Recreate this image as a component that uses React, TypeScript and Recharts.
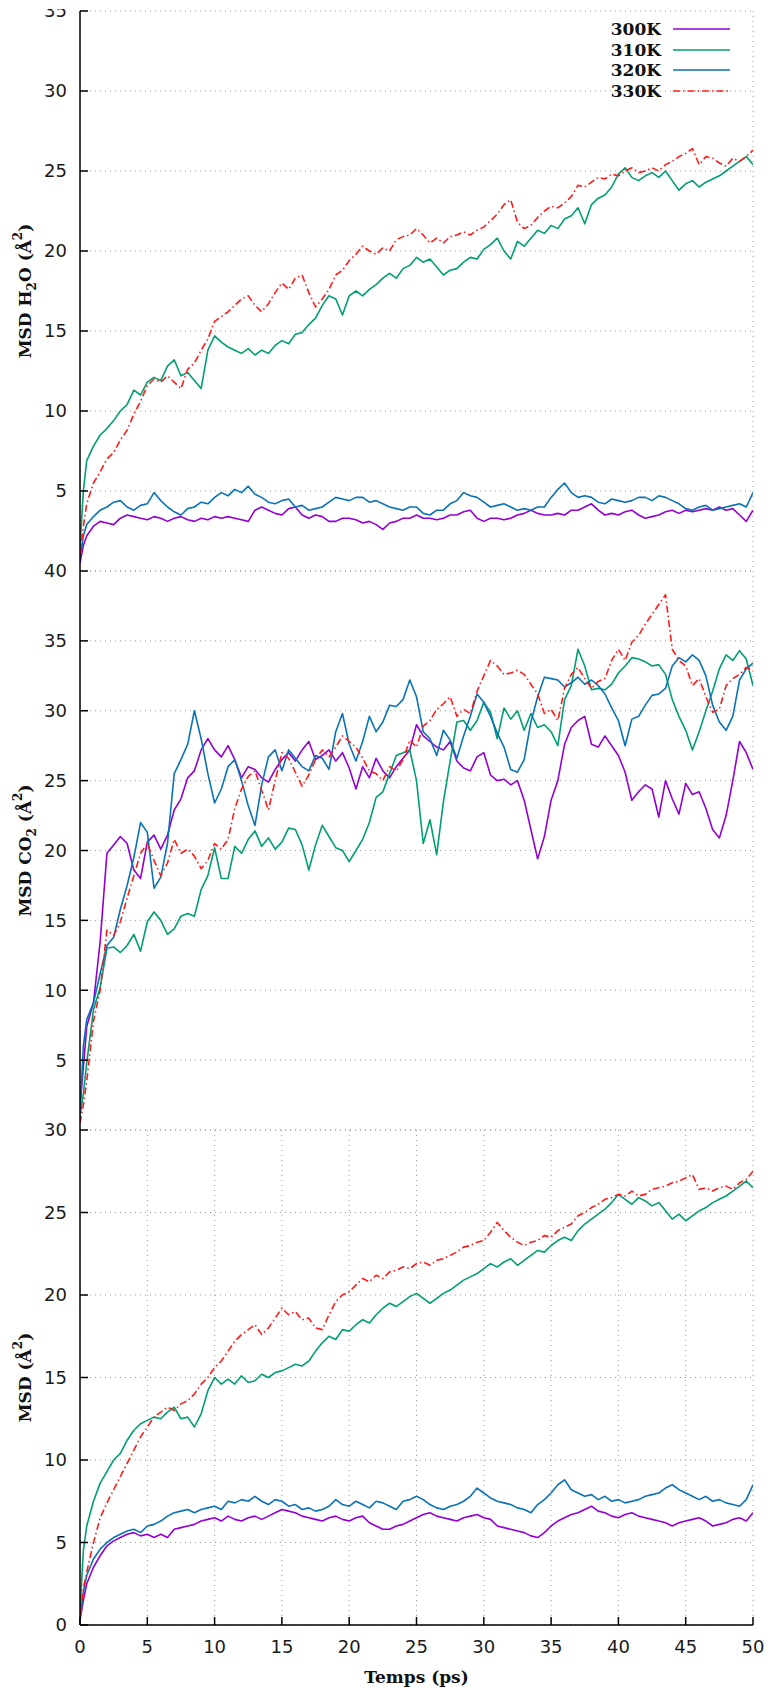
import React from 'react';
import { LineChart, Line, XAxis, YAxis, CartesianGrid } from 'recharts';

// ---------------- data ----------------
const timePs = [
  0, 0.25, 0.5,
  1, 1.5, 2, 2.5, 3, 3.5, 4, 4.5, 5, 5.5,
  6, 6.5, 7, 7.5, 8, 8.5, 9, 9.5, 10, 10.5,
  11, 11.5, 12, 12.5, 13, 13.5, 14, 14.5, 15, 15.5,
  16, 16.5, 17, 17.5, 18, 18.5, 19, 19.5, 20, 20.5,
  21, 21.5, 22, 22.5, 23, 23.5, 24, 24.5, 25, 25.5,
  26, 26.5, 27, 27.5, 28, 28.5, 29, 29.5, 30, 30.5,
  31, 31.5, 32, 32.5, 33, 33.5, 34, 34.5, 35, 35.5,
  36, 36.5, 37, 37.5, 38, 38.5, 39, 39.5, 40, 40.5,
  41, 41.5, 42, 42.5, 43, 43.5, 44, 44.5, 45, 45.5,
  46, 46.5, 47, 47.5, 48, 48.5, 49, 49.5, 50,
];

const seriesNames = ['300K', '310K', '320K', '330K'];
const seriesColors = ['#9400d3', '#009e73', '#0a72b6', '#ff1a1a'];

// MSD H2O
const h2o300 = [
  0.5, 1.6, 2.2,
  2.8, 3.1, 3.0, 2.9, 3.3, 3.5, 3.4, 3.3, 3.2, 3.4,
  3.3, 3.1, 3.3, 3.4, 3.2, 3.1, 3.3, 3.2, 3.4, 3.3,
  3.4, 3.3, 3.2, 3.1, 3.8, 4.0, 3.8, 3.6, 3.5, 3.9,
  4.0, 3.5, 3.3, 3.5, 3.4, 3.1, 3.1, 3.3, 3.3, 3.2,
  3.0, 3.1, 2.9, 2.6, 3.0, 3.1, 3.3, 3.3, 3.5, 3.3,
  3.3, 3.2, 3.3, 3.5, 3.5, 3.7, 3.8, 3.3, 3.1, 3.3,
  3.3, 3.2, 3.3, 3.5, 3.6, 3.8, 3.6, 3.5, 3.5, 3.6,
  3.5, 3.8, 3.8, 4.0, 4.2, 3.8, 3.5, 3.6, 3.5, 3.7,
  3.8, 3.5, 3.3, 3.4, 3.5, 3.7, 3.8, 3.6, 3.8, 3.7,
  3.8, 3.9, 3.8, 4.0, 3.8, 3.9, 3.5, 3.1, 3.8,
];
const h2o310 = [
  1.5, 5.0, 6.9,
  7.8, 8.5, 8.9, 9.4, 10.0, 10.4, 11.3, 11.0, 11.8, 12.1,
  11.9, 12.8, 13.2, 12.2, 12.4, 11.9, 11.4, 13.8, 14.7, 14.3,
  14.0, 13.8, 13.6, 13.9, 13.5, 13.8, 13.6, 14.1, 14.4, 14.2,
  14.8, 14.9, 15.4, 15.8, 16.6, 17.2, 17.0, 16.0, 17.2, 17.5,
  17.2, 17.6, 17.9, 18.3, 18.6, 18.3, 18.9, 19.1, 19.6, 19.3,
  19.5, 19.0, 18.5, 18.8, 18.9, 19.3, 19.6, 19.5, 20.1, 20.4,
  20.8, 20.0, 19.5, 20.6, 20.3, 20.8, 21.3, 21.1, 21.6, 21.4,
  22.0, 22.2, 22.7, 21.7, 22.9, 23.3, 23.5, 24.0, 24.8, 25.2,
  24.6, 24.4, 24.7, 24.9, 24.6, 25.0, 24.4, 23.8, 24.2, 24.4,
  24.0, 24.3, 24.5, 24.7, 25.0, 25.3, 25.6, 25.9, 25.4,
];
const h2o320 = [
  0.8, 2.2, 2.9,
  3.4, 3.8, 4.0, 4.3, 4.4, 4.0, 3.8, 4.1, 4.2, 4.9,
  4.4, 4.0, 3.7, 3.5, 3.9, 4.0, 4.3, 4.2, 4.6, 4.9,
  4.7, 5.1, 4.9, 5.3, 4.8, 4.6, 4.3, 4.2, 4.4, 4.5,
  4.0, 4.1, 3.8, 3.9, 4.0, 4.3, 4.6, 4.5, 4.4, 4.6,
  4.6, 4.3, 4.4, 4.2, 4.0, 3.9, 3.8, 4.0, 4.0, 3.6,
  3.5, 3.8, 3.8, 4.2, 4.4, 4.9, 4.7, 4.6, 4.3, 4.0,
  4.1, 4.2, 4.0, 3.8, 3.9, 3.8, 4.0, 4.0, 4.6, 5.1,
  5.5, 4.9, 4.6, 4.7, 4.6, 4.3, 4.2, 4.5, 4.4, 4.3,
  4.4, 4.6, 4.6, 4.4, 4.7, 4.6, 4.4, 4.2, 3.9, 3.8,
  4.0, 4.1, 3.8, 3.9, 4.0, 4.1, 4.2, 4.0, 4.9,
];
const h2o330 = [
  1.0, 2.8, 4.2,
  5.5, 6.2, 7.0, 7.4, 8.2, 8.8, 9.8, 10.6, 11.6, 12.0,
  11.8, 12.2, 11.8, 11.4, 12.6, 13.0, 13.8, 14.5, 15.6, 15.9,
  16.2, 16.6, 17.0, 17.2, 16.6, 16.2, 16.7, 17.4, 18.0, 17.6,
  18.3, 18.5, 17.4, 16.5, 17.0, 17.6, 18.5, 18.8, 19.4, 19.8,
  20.3, 20.0, 19.8, 20.2, 20.0, 20.7, 20.9, 21.0, 21.4, 21.0,
  20.5, 20.8, 20.5, 20.9, 21.0, 21.2, 21.0, 21.3, 21.5, 21.9,
  22.3, 22.9, 23.2, 21.8, 21.4, 21.6, 22.1, 22.5, 22.8, 22.7,
  23.0, 23.4, 24.1, 24.0, 24.3, 24.6, 24.5, 24.8, 24.7, 25.0,
  25.2, 24.9, 25.0, 25.2, 25.0, 25.4, 25.6, 25.9, 26.1, 26.4,
  25.4, 25.9, 25.8, 25.5, 25.3, 25.8, 25.6, 25.9, 26.3,
];

// MSD CO2
const co2300 = [
  1.7, 4.5, 7.4,
  9.1, 13.5, 19.8, 20.4, 21.0, 20.5, 18.6, 18.0, 20.6, 21.1,
  20.1, 21.1, 22.9, 23.7, 25.2, 25.7, 27.2, 28.0, 27.2, 26.7,
  27.5, 26.5, 25.2, 26.0, 25.8, 25.2, 24.9, 25.8, 26.5, 27.0,
  26.4, 27.2, 27.8, 26.5, 26.8, 27.2, 26.4, 27.0, 25.9, 24.4,
  26.0, 25.2, 26.6, 25.7, 25.2, 26.0, 26.6, 27.2, 29.0, 28.2,
  27.8, 27.4, 27.2, 27.8, 26.4, 25.9, 25.7, 26.7, 27.0, 25.4,
  25.0, 25.1, 24.7, 25.0, 23.6, 21.5, 19.4, 21.0, 23.6, 25.0,
  27.6, 28.8, 29.3, 29.6, 27.6, 27.4, 28.2, 27.5, 26.8, 25.6,
  23.6, 24.2, 24.7, 24.4, 22.4, 25.0, 23.7, 22.6, 24.8, 24.0,
  24.2, 23.0, 21.5, 20.9, 22.5, 25.0, 27.8, 27.0, 25.8,
];
const co2310 = [
  1.0, 2.6, 4.8,
  8.6, 10.2, 13.0, 13.1, 12.7, 13.2, 14.0, 12.8, 14.9, 15.6,
  15.0, 14.0, 14.4, 15.3, 15.5, 15.3, 17.2, 18.2, 20.2, 18.0,
  18.0, 20.3, 19.8, 20.8, 21.4, 20.3, 20.9, 20.1, 20.6, 21.6,
  21.5, 20.4, 18.6, 20.4, 21.8, 21.0, 20.2, 20.0, 19.2, 20.0,
  20.8, 22.0, 23.8, 24.2, 25.5, 26.8, 27.0, 27.2, 25.0, 20.5,
  22.2, 19.7, 23.5, 26.4, 29.2, 29.3, 28.6, 29.3, 30.6, 29.9,
  28.0, 30.2, 29.4, 30.0, 28.6, 29.8, 28.8, 29.0, 28.5, 27.5,
  30.8, 31.8, 34.4, 33.2, 31.5, 31.6, 31.5, 31.9, 32.7, 33.2,
  33.8, 33.7, 33.5, 33.2, 33.3, 32.6, 30.8, 29.6, 28.6, 27.2,
  28.5, 30.0, 31.4, 33.0, 34.0, 33.6, 34.3, 33.7, 31.8,
];
const co2320 = [
  1.2, 6.0, 7.9,
  9.1, 11.2, 13.2, 13.8, 15.8, 17.5, 19.5, 22.0, 21.3, 17.3,
  18.1, 20.5, 25.5, 26.5, 27.6, 30.0, 28.0, 25.5, 23.4, 24.4,
  26.0, 26.5, 25.0, 23.2, 21.8, 24.7, 26.7, 27.2, 25.7, 27.2,
  26.6, 26.0, 25.7, 26.8, 26.6, 25.8, 28.5, 29.8, 27.6, 26.4,
  27.8, 29.6, 28.5, 29.2, 30.4, 30.3, 30.8, 32.2, 31.0, 28.5,
  28.0, 26.8, 28.6, 27.9, 26.6, 28.2, 29.6, 31.2, 30.6, 29.6,
  28.4, 27.4, 25.8, 25.6, 26.5, 29.2, 31.0, 32.4, 32.3, 32.2,
  31.7, 32.0, 32.4, 31.9, 32.2, 31.8, 31.2, 30.2, 29.3, 27.5,
  29.4, 29.6, 30.4, 31.1, 31.2, 31.6, 33.2, 33.8, 33.5, 34.0,
  33.6, 32.5, 30.4, 29.2, 28.6, 29.6, 32.2, 33.0, 33.4,
];
const co2330 = [
  0.5, 1.8, 3.5,
  7.8, 10.0, 14.3, 13.9, 14.9, 16.6, 18.2, 19.8, 20.5, 19.3,
  18.2, 19.1, 20.8, 19.8, 20.1, 19.6, 18.7, 19.3, 20.5, 20.1,
  20.8, 23.0, 24.4, 25.3, 25.7, 24.3, 22.9, 25.0, 27.0, 26.6,
  25.6, 24.6, 25.4, 26.5, 27.2, 26.7, 27.4, 28.2, 27.8, 27.4,
  26.6, 25.7, 25.5, 25.0, 26.0, 25.7, 26.5, 27.9, 27.4, 28.9,
  29.3, 30.1, 30.5, 31.0, 29.6, 30.1, 29.8, 31.4, 32.5, 33.6,
  33.2, 32.6, 32.7, 32.9, 32.6, 31.9, 31.2, 29.8, 30.1, 29.3,
  31.6, 32.6, 33.1, 32.3, 31.6, 32.1, 32.3, 33.6, 34.4, 33.6,
  34.9, 35.4, 36.2, 36.9, 37.6, 38.3, 34.4, 33.6, 33.2, 31.8,
  32.3, 31.0, 29.9, 30.1, 31.8, 32.3, 32.6, 33.1, 32.9,
];

// MSD total
const all300 = [
  0.3, 1.5, 2.5,
  3.5, 4.2, 4.8, 5.1, 5.3, 5.5, 5.6, 5.4, 5.5, 5.3,
  5.5, 5.3, 5.8, 5.9, 6.0, 6.1, 6.3, 6.4, 6.5, 6.3,
  6.6, 6.4, 6.3, 6.5, 6.6, 6.4, 6.6, 6.8, 7.0, 6.9,
  6.8, 6.6, 6.5, 6.4, 6.3, 6.5, 6.6, 6.4, 6.3, 6.5,
  6.6, 6.2, 6.0, 5.8, 5.8, 6.0, 6.1, 6.3, 6.5, 6.7,
  6.8, 6.6, 6.5, 6.4, 6.3, 6.5, 6.6, 6.7, 6.5, 6.4,
  6.0, 5.9, 5.8, 5.7, 5.6, 5.4, 5.3, 5.6, 6.0, 6.3,
  6.5, 6.7, 6.8, 7.0, 7.2, 6.9, 6.8, 6.6, 6.5, 6.7,
  6.8, 6.6, 6.5, 6.4, 6.3, 6.2, 6.0, 6.2, 6.3, 6.4,
  6.5, 6.3, 6.0, 6.1, 6.2, 6.4, 6.5, 6.3, 6.8,
];
const all310 = [
  0.8, 4.5, 6.0,
  7.5, 8.6, 9.3, 10.0, 10.4, 11.2, 11.8, 12.2, 12.4, 12.6,
  12.5, 12.9, 13.2, 12.5, 12.6, 12.0, 12.8, 14.2, 15.0, 14.6,
  14.9, 14.6, 15.1, 14.7, 14.8, 15.2, 15.0, 15.3, 15.4, 15.6,
  15.8, 15.7, 16.0, 16.6, 17.1, 17.5, 17.3, 17.9, 17.8, 18.2,
  18.5, 18.3, 18.8, 19.2, 19.5, 19.3, 19.6, 19.9, 20.1, 19.8,
  19.5, 19.8, 20.1, 20.3, 20.6, 20.9, 21.1, 21.3, 21.6, 21.9,
  21.7, 22.0, 22.2, 21.8, 22.1, 22.4, 22.7, 22.6, 23.0, 23.3,
  23.5, 23.3, 23.9, 24.3, 24.6, 24.9, 25.2, 25.6, 26.1, 25.8,
  25.5, 25.9, 25.7, 25.4, 25.6, 25.1, 24.6, 24.9, 24.5, 24.8,
  25.1, 25.3, 25.6, 25.8, 26.0, 26.3, 26.6, 26.9, 26.5,
];
const all320 = [
  0.4, 2.0, 3.0,
  4.0, 4.6, 5.0, 5.3, 5.5, 5.7, 5.8, 5.6, 6.0, 6.1,
  6.3, 6.6, 6.8, 6.9, 7.0, 6.8, 7.0, 7.1, 7.2, 7.0,
  7.5, 7.4, 7.6, 7.5, 7.8, 7.5, 7.3, 7.6, 7.5, 7.2,
  7.3, 7.0, 7.1, 6.9, 7.0, 7.2, 7.6, 7.3, 7.2, 7.5,
  7.3, 7.1, 7.5, 7.4, 7.2, 7.0, 7.5, 7.6, 7.8, 7.6,
  7.3, 7.1, 7.0, 7.2, 7.3, 7.5, 7.8, 8.3, 8.0, 7.7,
  7.5, 7.4, 7.3, 7.1, 7.0, 6.8, 7.3, 7.6, 8.0, 8.5,
  8.8, 8.2, 8.0, 7.8, 7.9, 7.6, 7.8, 7.5, 7.6, 7.4,
  7.5, 7.6, 7.8, 7.9, 8.0, 8.3, 8.5, 8.2, 8.0, 7.8,
  7.6, 7.8, 7.5, 7.6, 7.4, 7.3, 7.2, 7.6, 8.5,
];
const all330 = [
  0.6, 2.2, 3.2,
  5.0, 6.5, 7.4, 8.2, 9.0, 9.8, 10.6, 11.4, 12.0, 12.6,
  12.9, 13.2, 13.0, 13.4, 13.6, 14.0, 14.6, 15.0, 15.6, 16.0,
  16.6, 17.2, 17.6, 17.9, 18.2, 17.6, 18.0, 18.6, 19.2, 18.8,
  19.0, 18.5, 18.6, 18.0, 17.9, 18.8, 19.6, 20.0, 20.2, 20.6,
  21.0, 20.8, 21.2, 21.0, 21.4, 21.5, 21.7, 21.6, 21.9, 22.0,
  21.8, 22.1, 22.2, 22.4, 22.6, 22.9, 23.0, 23.2, 23.3, 23.8,
  24.4, 23.9, 23.5, 23.2, 23.0, 23.2, 23.3, 23.6, 23.5, 23.9,
  24.1, 24.3, 24.8, 25.0, 25.3, 25.5, 25.8, 25.9, 26.1, 26.0,
  26.3, 26.0, 26.1, 26.4, 26.5, 26.6, 26.8, 26.9, 27.1, 27.3,
  26.4, 26.5, 26.3, 26.5, 26.6, 26.4, 26.8, 27.0, 27.5,
];

const xTicks = [0, 5, 10, 15, 20, 25, 30, 35, 40, 45, 50];
const yTicksH2O = [5, 10, 15, 20, 25, 30, 35];
const yTicksCO2 = [5, 10, 15, 20, 25, 30, 35, 40];
const yTicksAll = [0, 5, 10, 15, 20, 25, 30];
const xTitle = 'Temps (ps)';

// ---------------- styling ----------------
const CHART_W = 770;
const tickFont = { fontFamily: '"DejaVu Sans", sans-serif', fontSize: 18, fill: '#1a1a1a' };
const titleFont = '"DejaVu Serif", serif';
const TITLE_SIZE = 17;
const axisStroke = { stroke: '#000', strokeWidth: 1.5 };
const dashes = [undefined, undefined, undefined, '7 3 1.5 3'];

function buildRows(series: number[][]) {
  return timePs.map((t, i) => {
    const row: Record<string, number> = { t };
    series.forEach((s, k) => {
      row['k' + k] = s[i];
    });
    return row;
  });
}

type PanelProps = {
  top: number;
  height: number;
  marginTop: number;
  marginBottom: number;
  xAxisHeight: number;
  showXLabels: boolean;
  yDomain: [number, number];
  yTicks: number[];
  series: number[][];
  yTitle: React.ReactNode;
  plotHeight: number;
  withXTitle?: boolean;
};

function Panel(p: PanelProps) {
  const data = buildRows(p.series);
  const titleCy = p.marginTop + p.plotHeight / 2;
  return (
    <div style={{ position: 'absolute', left: 0, top: p.top }}>
      <LineChart
        width={CHART_W}
        height={p.height}
        data={data}
        margin={{ top: p.marginTop, right: 17, bottom: p.marginBottom, left: 0 }}
      >
        <CartesianGrid
          xAxisId="b"
          yAxisId="l"
          stroke="#9a9a9a"
          strokeWidth={1}
          strokeDasharray="1 4"
        />
        <XAxis
          xAxisId="b"
          dataKey="t"
          type="number"
          domain={[0, 50]}
          ticks={xTicks}
          interval={0}
          allowDataOverflow
          height={p.xAxisHeight}
          axisLine={axisStroke}
          tickLine={axisStroke}
          tickSize={-8}
          tickMargin={23}
          tick={p.showXLabels ? tickFont : false}
          label={
            p.withXTitle
              ? {
                  content: () => (
                    <text
                      x={80 + 673 / 2}
                      y={p.marginTop + p.plotHeight + 52}
                      textAnchor="middle"
                      dominantBaseline="central"
                      fontFamily={titleFont}
                      fontWeight="bold"
                      fontSize={TITLE_SIZE}
                      fill="#111"
                    >
                      {xTitle}
                    </text>
                  ),
                }
              : undefined
          }
        />
        <XAxis
          xAxisId="t"
          orientation="top"
          dataKey="t"
          type="number"
          domain={[0, 50]}
          ticks={xTicks}
          interval={0}
          allowDataOverflow
          height={0}
          axisLine={axisStroke}
          tickLine={axisStroke}
          tickSize={-8}
          tick={false}
        />
        <YAxis
          yAxisId="l"
          type="number"
          domain={p.yDomain}
          ticks={p.yTicks}
          interval={0}
          allowDataOverflow
          width={80}
          axisLine={axisStroke}
          tickLine={axisStroke}
          tickSize={-8}
          tickMargin={21}
          tick={tickFont}
          label={{
            content: () => (
              <text
                x={25}
                y={titleCy}
                transform={`rotate(-90 25 ${titleCy})`}
                textAnchor="middle"
                dominantBaseline="central"
                fontFamily={titleFont}
                fontWeight="bold"
                fontSize={TITLE_SIZE}
                fill="#111"
              >
                {p.yTitle}
              </text>
            ),
          }}
        />
        <YAxis
          yAxisId="r"
          orientation="right"
          type="number"
          domain={p.yDomain}
          ticks={p.yTicks}
          interval={0}
          allowDataOverflow
          width={0}
          axisLine={axisStroke}
          tickLine={axisStroke}
          tickSize={-8}
          tick={false}
        />
        {p.series.map((_, k) => (
          <Line
            key={k}
            xAxisId="b"
            yAxisId="l"
            type="linear"
            dataKey={'k' + k}
            name={seriesNames[k]}
            stroke={seriesColors[k]}
            strokeWidth={1.6}
            strokeDasharray={dashes[k]}
            strokeLinejoin="round"
            dot={false}
            activeDot={false}
            isAnimationActive={false}
          />
        ))}
      </LineChart>
    </div>
  );
}

function LegendBox() {
  return (
    <div style={{ position: 'absolute', left: 540, top: 19, width: 190 }}>
      {seriesNames.map((n, i) => (
        <div
          key={n}
          style={{
            display: 'flex',
            alignItems: 'center',
            justifyContent: 'flex-end',
            height: 20.5,
          }}
        >
          <span
            style={{
              fontFamily: titleFont,
              fontWeight: 'bold',
              fontSize: 17,
              lineHeight: '20.5px',
              color: '#111',
            }}
          >
            {n}
          </span>
          <svg width={69} height={6} style={{ display: 'block' }}>
            <line
              x1={12}
              x2={69}
              y1={3}
              y2={3}
              stroke={seriesColors[i]}
              strokeWidth={1.6}
              strokeDasharray={dashes[i]}
            />
          </svg>
        </div>
      ))}
    </div>
  );
}

const sub = (s: string) => (
  <tspan baselineShift="sub" fontSize={12}>
    {s}
  </tspan>
);
const sup = (s: string) => (
  <tspan baselineShift="super" fontSize={12}>
    {s}
  </tspan>
);

export default function App() {
  return (
    <div
      style={{
        position: 'absolute',
        left: 0,
        top: 0,
        width: 770,
        height: 1690,
        overflow: 'hidden',
        background: '#fff',
      }}
    >
      <Panel
        top={9}
        height={566}
        marginTop={2}
        marginBottom={4}
        xAxisHeight={0}
        showXLabels={false}
        yDomain={[0, 35]}
        yTicks={yTicksH2O}
        series={[h2o300, h2o310, h2o320, h2o330]}
        plotHeight={560}
        yTitle={
          <>
            MSD H{sub('2')}O (Å{sup('2')})
          </>
        }
      />
      <Panel
        top={560}
        height={574}
        marginTop={11}
        marginBottom={4}
        xAxisHeight={0}
        showXLabels={false}
        yDomain={[0, 40]}
        yTicks={yTicksCO2}
        series={[co2300, co2310, co2320, co2330]}
        plotHeight={559}
        yTitle={
          <>
            MSD CO{sub('2')} (Å{sup('2')})
          </>
        }
      />
      <Panel
        top={1119}
        height={570}
        marginTop={11}
        marginBottom={0}
        xAxisHeight={64}
        showXLabels={true}
        yDomain={[0, 30]}
        yTicks={yTicksAll}
        series={[all300, all310, all320, all330]}
        plotHeight={495}
        withXTitle
        yTitle={
          <>
            MSD (Å{sup('2')})
          </>
        }
      />
      <LegendBox />
    </div>
  );
}
